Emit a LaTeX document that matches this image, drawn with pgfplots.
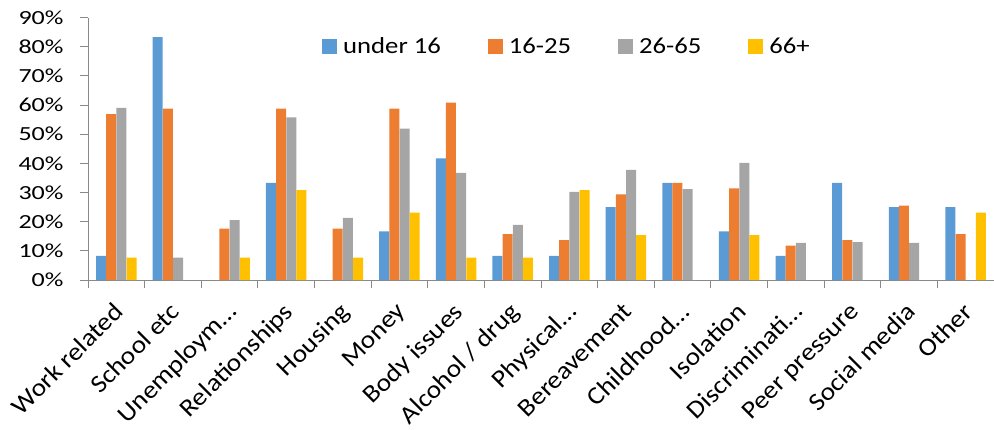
\documentclass[border=0pt]{standalone}
\usepackage{pgfplots}
\pgfplotsset{compat=1.18}
\usepackage{fontspec}
\setmainfont{Carlito}
\newfontfamily\tickfont{Carlito}[FakeStretch=1.3]
\newfontfamily\legfont{Carlito}[FakeStretch=1.16]
\newfontfamily\labfont{Carlito}[FakeStretch=1.1]
\definecolor{cblue}{HTML}{5B9BD5}
\definecolor{corange}{HTML}{ED7D31}
\definecolor{cgray}{HTML}{A5A5A5}
\definecolor{cyellow}{HTML}{FFC000}
\definecolor{axisgray}{HTML}{898989}
\begin{document}
\begin{tikzpicture}
\path[use as bounding box] (-88bp,-150bp) rectangle (906bp,280bp);
\begin{axis}[
  at={(0,0)}, anchor=south west, scale only axis,
  width=906bp, height=262.5bp,
  xmin=-0.5, xmax=15.5, ymin=0, ymax=90,
  ybar=0.2bp, bar width=10bp,
  axis x line*=bottom, axis y line*=left,
  axis line style={draw=axisgray, line width=0.8bp, -},
  tick align=outside, major tick length=8bp,
  tick style={draw=axisgray, line width=0.8bp},
  ytick={0,10,...,90},
  yticklabels={0\%,10\%,20\%,30\%,40\%,50\%,60\%,70\%,80\%,90\%},
  yticklabel style={font=\tickfont\fontsize{20bp}{24bp}\selectfont, text=black, xshift=-13bp},
  xtick={-0.5,0.5,...,15.5},
  xticklabels={},
  extra x ticks={0,1,...,15},
  extra x tick labels={Work related,School etc,Unemploym…,Relationships,Housing,Money,Body issues,Alcohol / drug,Physical…,Bereavement,Childhood…,Isolation,Discriminati…,Peer pressure,Social media,Other},
  extra x tick style={major tick length=0pt,
    tick label style={font=\labfont\fontsize{25bp}{29bp}\selectfont, text=black, inner sep=0pt, anchor=north east, xshift=-4bp, yshift=-21bp, rotate=45}},
  legend columns=4,
  legend style={at={(0.2583,0.8895)}, anchor=west, draw=none, fill=none, inner sep=0pt,
    font=\legfont\fontsize{23bp}{27bp}\selectfont,
    /tikz/every odd column/.append style={column sep=4bp},
    /tikz/every even column/.append style={column sep=45bp}},
  legend image code/.code={\fill[#1] (0bp,-7.5bp) rectangle (15bp,7.5bp);},
  every axis plot/.append style={draw=none},
]
\addplot[fill=cblue] coordinates {(0,8.3) (1,83.3) (3,33.3) (5,16.7) (6,41.7) (7,8.3) (8,8.3) (9,25) (10,33.3) (11,16.7) (12,8.3) (13,33.3) (14,25) (15,25)};
\addplot[fill=corange] coordinates {(0,56.9) (1,58.8) (2,17.6) (3,58.8) (4,17.6) (5,58.8) (6,60.8) (7,15.7) (8,13.7) (9,29.4) (10,33.3) (11,31.4) (12,11.8) (13,13.7) (14,25.5) (15,15.7)};
\addplot[fill=cgray] coordinates {(0,59.0) (1,7.7) (2,20.5) (3,55.8) (4,21.3) (5,51.9) (6,36.7) (7,18.9) (8,30.2) (9,37.8) (10,31.2) (11,40.2) (12,12.7) (13,13.0) (14,12.7)};
\addplot[fill=cyellow] coordinates {(0,7.7) (2,7.7) (3,30.8) (4,7.7) (5,23.1) (6,7.7) (7,7.7) (8,30.8) (9,15.4) (11,15.4) (15,23.1)};
\legend{under 16,16-25,26-65,66+}
\end{axis}
\end{tikzpicture}
\end{document}
